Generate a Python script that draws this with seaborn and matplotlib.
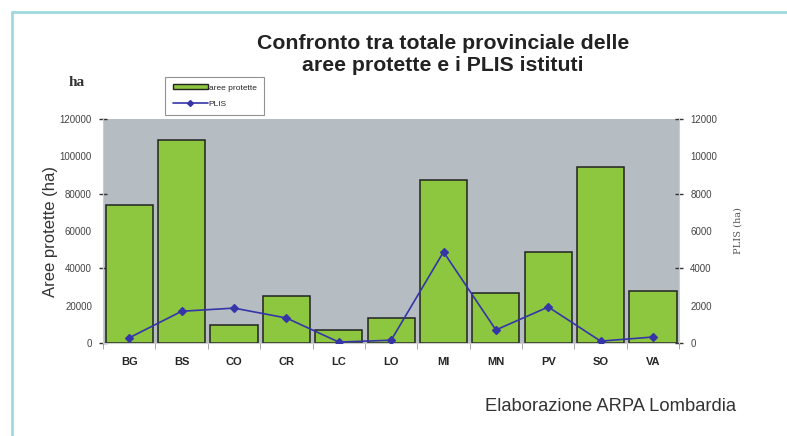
import pandas as pd
import seaborn as sns
import matplotlib
matplotlib.use('Agg')
import matplotlib.pyplot as plt
from matplotlib.patches import Patch
from matplotlib.lines import Line2D

# Data
province = ["BG", "BS", "CO", "CR", "LC", "LO", "MI", "MN", "PV", "SO", "VA"]
aree_protette = [74000, 109000, 9800, 25300, 6800, 13300, 87300, 26800, 48800, 94300, 27800]
plis = [280, 1700, 1870, 1340, 50, 150, 4880, 700, 1930, 100, 320]

df = pd.DataFrame({"provincia": province, "aree": aree_protette, "plis": plis})

sns.set_style("white")
plt.rcParams['font.family'] = ['Liberation Sans', 'DejaVu Sans']

green = "#8dc63f"
blue = "#3535a8"
bg = "#b5bdc3"

fig = plt.figure(figsize=(7.87, 4.36), dpi=100)
ax = fig.add_axes([0.131, 0.2133, 0.732, 0.5137])
ax.set_facecolor(bg)

sns.barplot(data=df, x="provincia", y="aree", color=green, width=0.9,
            edgecolor="#222222", linewidth=1.1, saturation=1, ax=ax)

ax2 = ax.twinx()
sns.pointplot(data=df, x="provincia", y="plis", color=blue, markers="D",
              markersize=4, linewidth=1.2, ax=ax2)

ax.set_xlim(-0.5, len(province) - 0.5)
ax.set_ylim(0, 120000)
ax2.set_ylim(0, 12000)

# show tick marks only every other label
ax.yaxis.remove_overlapping_locs = False
ax2.yaxis.remove_overlapping_locs = False
ax.set_yticks(range(0, 120001, 20000))
ax.set_yticks([0, 40000, 80000, 120000], minor=True)
ax2.set_yticks(range(0, 12001, 2000))
ax2.set_yticks([0, 4000, 8000, 12000], minor=True)
ax.set_xticks([i - 0.5 for i in range(len(province) + 1)], minor=True)

ax.tick_params(axis="y", which="major", length=0, labelsize=7, labelcolor="#444444", pad=8)
ax.tick_params(axis="y", which="minor", length=6, width=1, color="#333333", left=True,
               direction="inout")
ax2.tick_params(axis="y", which="major", length=0, labelsize=7, labelcolor="#444444", pad=8)
ax2.tick_params(axis="y", which="minor", length=6, width=1, color="#333333", right=True,
                direction="inout")
ax.tick_params(axis="x", which="major", length=0, labelsize=8, pad=10)
ax.tick_params(axis="x", which="minor", length=4, color="#999999", bottom=True)
for lbl in ax.get_xticklabels():
    lbl.set_fontweight("bold")

for s in ax.spines.values():
    s.set_visible(False)
for s in ax2.spines.values():
    s.set_visible(False)
ax.spines["left"].set_visible(True)
ax.spines["left"].set_color("#cccccc")
ax.spines["bottom"].set_visible(True)
ax.spines["bottom"].set_color("#cccccc")
ax2.spines["right"].set_visible(True)
ax2.spines["right"].set_color("#cccccc")

ax.set_xlabel("")
ax.set_ylabel("Aree protette (ha)", fontsize=12, color="#333333", labelpad=1)
ax2.set_ylabel("PLIS (ha)", fontsize=7, family="DejaVu Serif", color="#555555", labelpad=12)

fig.text(0.563, 0.874, "Confronto tra totale provinciale delle\naree protette e i PLIS istituti",
         ha="center", va="center", fontsize=15.3, fontweight="bold", color="#222222",
         linespacing=1.2)
fig.text(0.098, 0.81, "ha", ha="center", va="center", fontsize=11, family="Liberation Serif",
         fontweight="bold", color="#333333")
fig.text(0.935, 0.067, "Elaborazione ARPA Lombardia", ha="right", va="center",
         fontsize=13.2, color="#333333")

handles = [Patch(facecolor=green, edgecolor="#222222", linewidth=1),
           Line2D([0], [0], color=blue, marker="D", markersize=3, linewidth=1.2)]
leg = fig.legend(handles, ["aree protette", "PLIS"], loc="lower left",
                 bbox_to_anchor=(0.21, 0.736), fontsize=6, frameon=True, fancybox=False,
                 handlelength=4.2, handleheight=0.6, borderpad=0.9, labelspacing=1.0,
                 handletextpad=0.1, borderaxespad=0)
leg.get_frame().set_edgecolor("#777777")
leg.get_frame().set_linewidth(0.8)

# light cyan frame on top and left
fig.add_artist(Line2D([0.0153, 0.0153], [0, 0.972], color="#9fd8e0", linewidth=2,
                      transform=fig.transFigure))
fig.add_artist(Line2D([0.0153, 1.0], [0.972, 0.972], color="#9fd8e0", linewidth=2,
                      transform=fig.transFigure))

fig.savefig("out.png", dpi=100)
plt.close(fig)
